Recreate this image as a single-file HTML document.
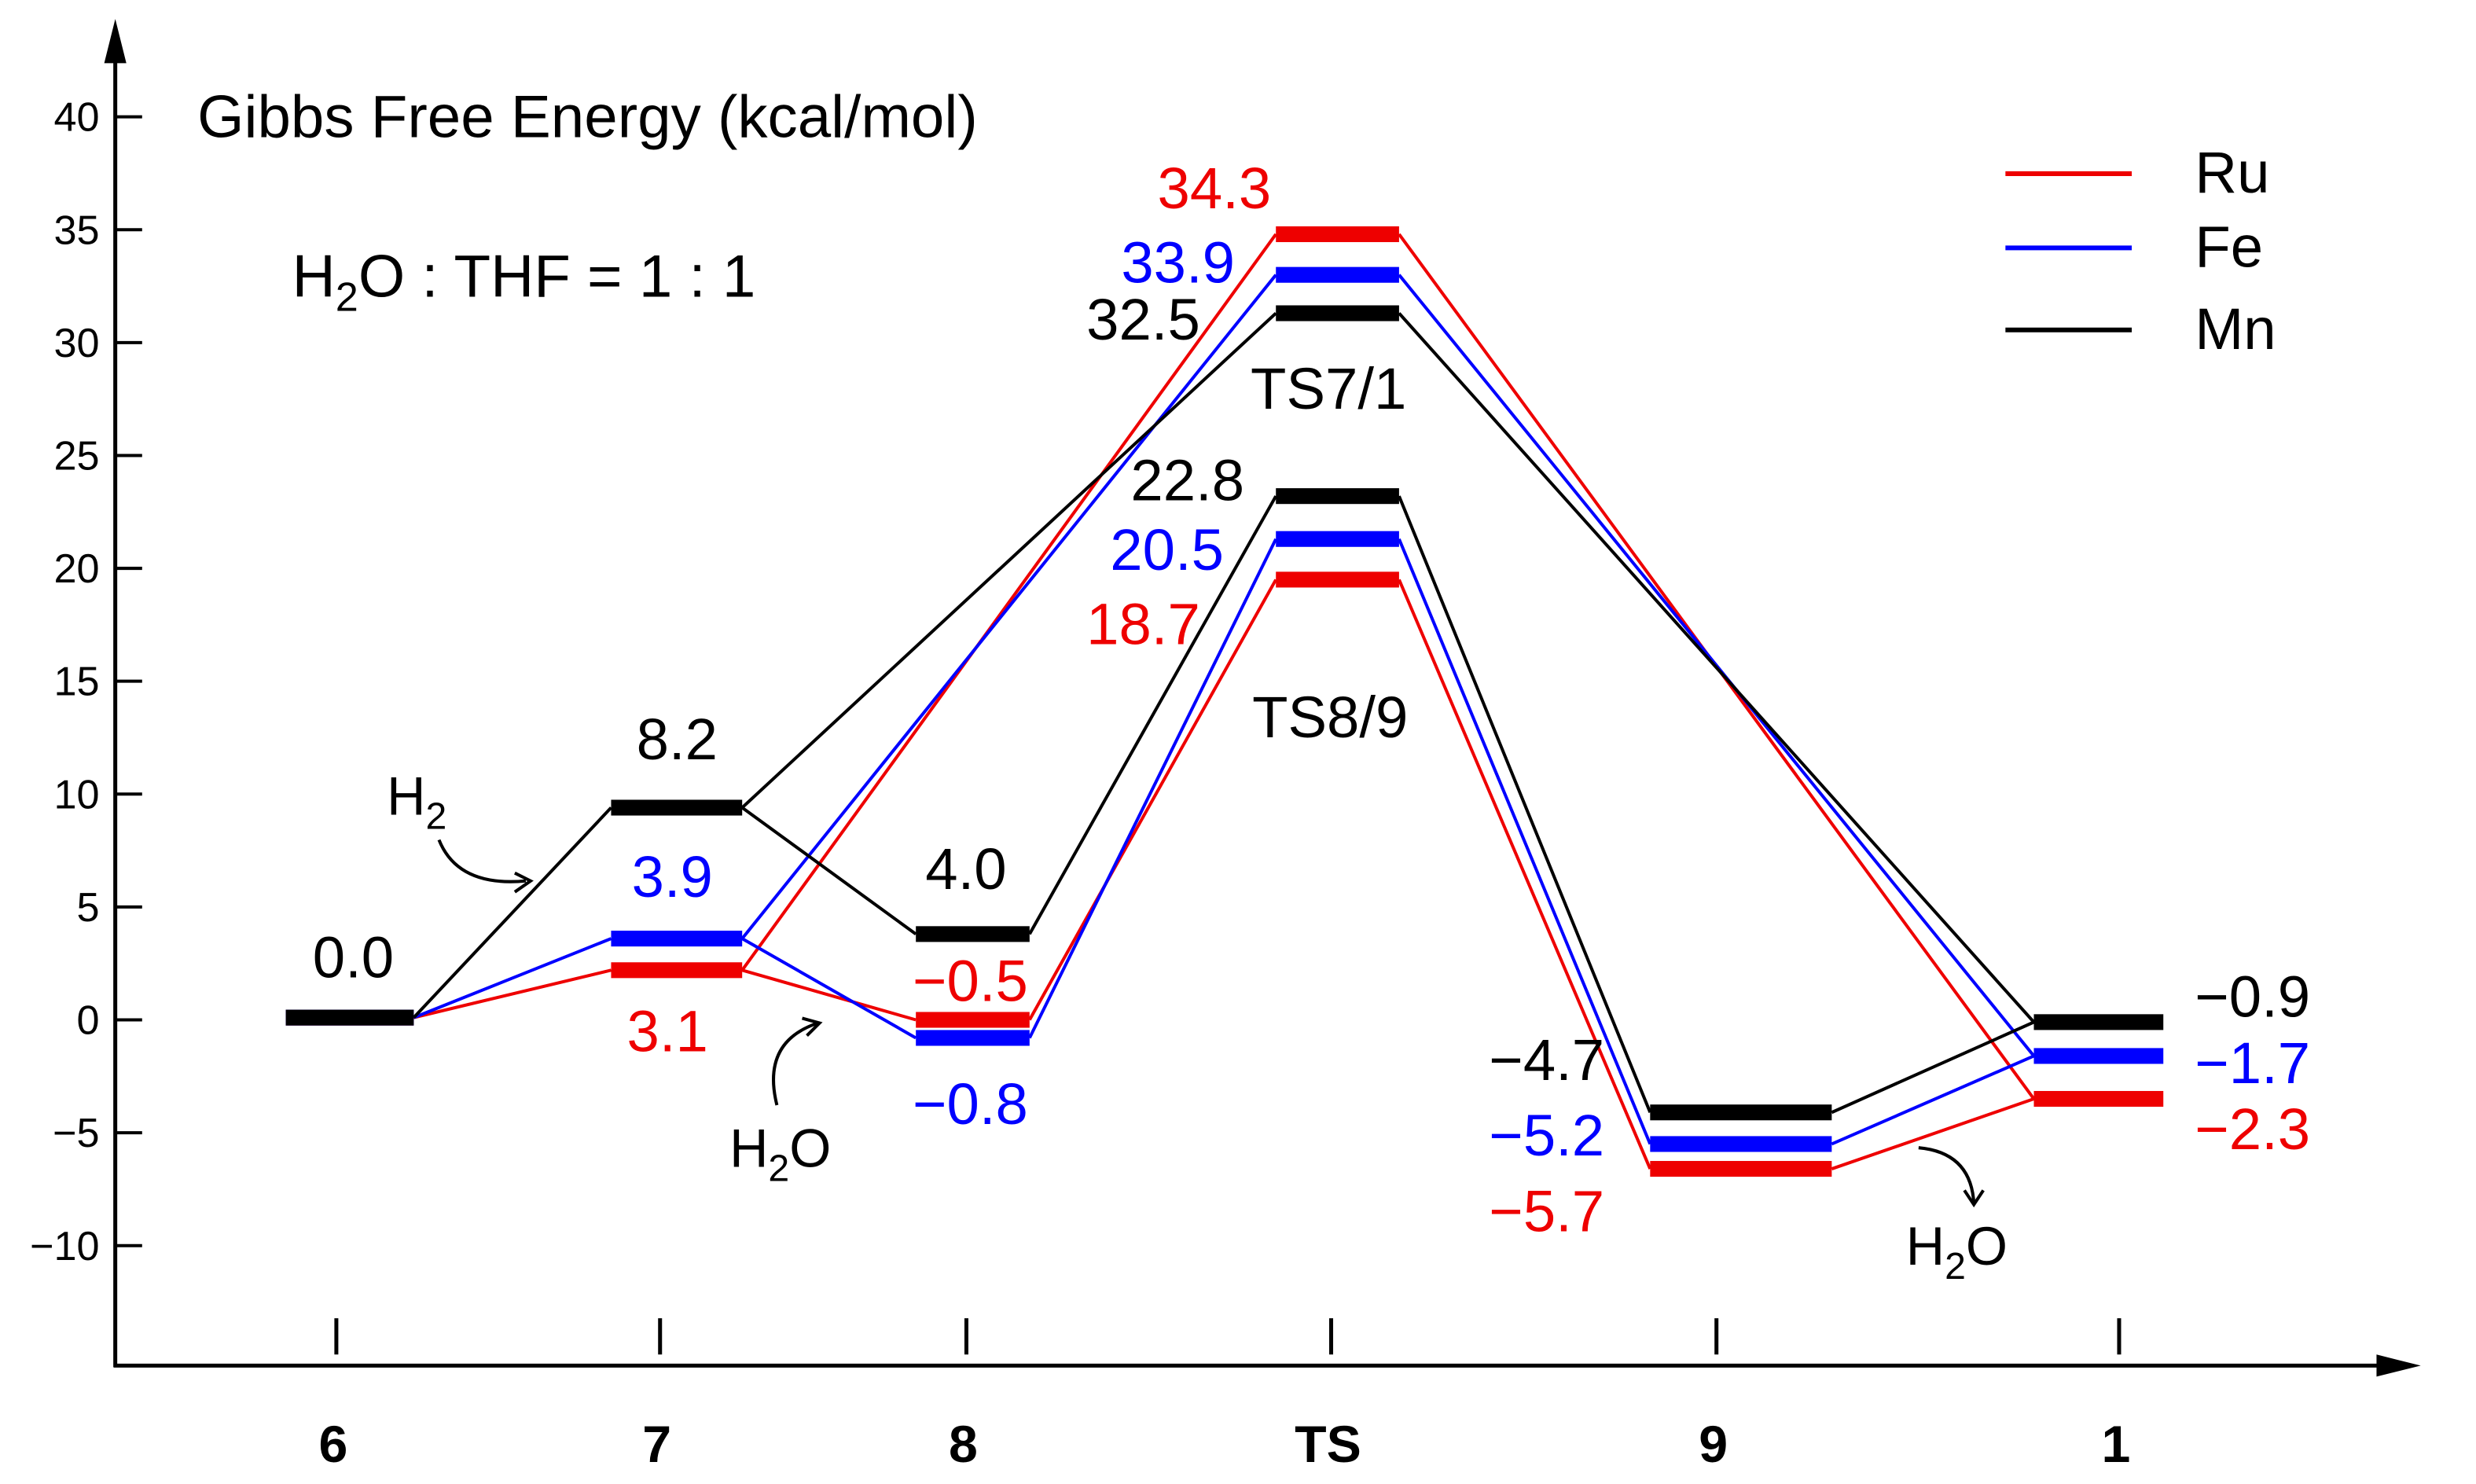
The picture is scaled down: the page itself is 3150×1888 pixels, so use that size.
<!DOCTYPE html>
<html><head><meta charset="utf-8"><style>
html,body{margin:0;padding:0;background:#fff;}
svg{display:block;font-family:"Liberation Sans",sans-serif;}
</style></head><body>
<svg id="chart" width="3150" height="1888" viewBox="0 0 1568 940" preserveAspectRatio="none" xmlns="http://www.w3.org/2000/svg">
<rect x="0" y="0" width="1568" height="940" fill="#fff"/>
<g id="axes"></g>
<g id="lines"></g>
<g id="bars"></g>
<g id="labels"></g>
<text x="125" y="87" font-size="38">Gibbs Free Energy (kcal/mol)</text>
<text x="185" y="188" font-size="38">H<tspan font-size="26" dy="9">2</tspan><tspan dy="-9">O : THF = 1 : 1</tspan></text>
<g>
<line x1="1270" y1="110" x2="1350" y2="110" stroke="#e00" stroke-width="3"/>
<text x="1390" y="122" font-size="37">Ru</text>
<line x1="1270" y1="157" x2="1350" y2="157" stroke="#00f" stroke-width="3"/>
<text x="1390" y="169" font-size="37">Fe</text>
<line x1="1270" y1="209" x2="1350" y2="209" stroke="#000" stroke-width="3"/>
<text x="1390" y="221" font-size="37">Mn</text>
</g>
<text x="792" y="259" font-size="37">TS7/1</text>
<text x="793" y="467" font-size="37">TS8/9</text>
<text x="245" y="516" font-size="34">H<tspan font-size="24" dy="9">2</tspan></text>
<text x="462" y="739" font-size="34">H<tspan font-size="24" dy="9">2</tspan><tspan dy="-9">O</tspan></text>
<text x="1207" y="801" font-size="34">H<tspan font-size="24" dy="9">2</tspan><tspan dy="-9">O</tspan></text>
<g fill="none" stroke="#000" stroke-width="2">
<path d="M278,532 Q290,562 333,558"/>
<path d="M326,553 L336,558 L326,565"/>
<path d="M492,700 Q482,660 518,648"/>
<path d="M508,645 L519,648 L511,656"/>
<path d="M1215,727 Q1248,730 1250,762"/>
<path d="M1244,754 L1250,763 L1256,754"/>
</g>
<script>
const yTicks=[40,35,30,25,20,15,10,5,0,-5,-10];
const categories=["6","7","8","TS","9","1"];
const catX=[213,418,612,843,1087,1342];
// plotted level heights (kcal/mol, as drawn) per state: [6,7,8,TSlow,9,1,TSup]
const mnLevels=[0.1,9.4,3.8,23.2,-4.1,-0.1,31.3];
const feLevels=[0.1,3.6,-0.8,21.3,-5.5,-1.6,33.0];
const ruLevels=[0.1,2.2,0.0,19.5,-6.6,-3.5,34.8];
const mnValues=["0.0","8.2","4.0","22.8","−4.7","−0.9","32.5"];
const feValues=["","3.9","−0.8","20.5","−5.2","−1.7","33.9"];
const ruValues=["","3.1","−0.5","18.7","−5.7","−2.3","34.3"];
const NS="http://www.w3.org/2000/svg";
function yS(v){return 646-v*14.3;}
const barX=[[181,262],[387,470],[580,652],[808,886],[1045,1160],[1288,1370],[808,886]];
const edges=[[0,1],[1,2],[2,3],[3,4],[4,5],[1,6],[6,5]];
function mk(tag,attrs,parent){const e=document.createElementNS(NS,tag);for(const k in attrs)e.setAttribute(k,attrs[k]);parent.appendChild(e);return e;}
const axes=document.getElementById('axes');
let e=mk('line',{x1:73,y1:25,x2:73,y2:866,stroke:'#000','stroke-width':2.5},axes);


e=mk('path',{d:'M66,40 L73,12 L80,40 Z',fill:'#000'},axes);


e=mk('line',{x1:72,y1:865,x2:1520,y2:865,stroke:'#000','stroke-width':2.5},axes);


e=mk('path',{d:'M1505,858 L1533,865 L1505,872 Z',fill:'#000'},axes);


yTicks.forEach(t=>{
 const l=mk('line',{x1:73,y1:yS(t),x2:90,y2:yS(t),stroke:'#000','stroke-width':2},axes);
 
 
 const tx=mk('text',{x:63,y:yS(t)+9,'font-size':26,'text-anchor':'end'},axes);
 tx.textContent=t<0?'−'+(-t):String(t);
 
 
});
categories.forEach((c,i)=>{
 const l=mk('line',{x1:catX[i],y1:835,x2:catX[i],y2:858,stroke:'#000','stroke-width':2.5},axes);
 
 
 const tx=mk('text',{x:catX[i]-2,y:926,'font-size':33,'font-weight':'bold','text-anchor':'middle'},axes);
 tx.textContent=c;
 
 
});
const lines=document.getElementById('lines'),bars=document.getElementById('bars');
const series=[["ru","#e00",ruLevels],["fe","#00f",feLevels],["mn","#000",mnLevels]];
series.forEach(([n,col,lv])=>{
 edges.forEach(([a,b])=>{
  const l=mk('line',{x1:barX[a][1],y1:yS(lv[a]),x2:barX[b][0],y2:yS(lv[b]),stroke:col,'stroke-width':2},lines);
  
  
 });
});
series.forEach(([n,col,lv])=>{
 lv.forEach((v,i)=>{
  const r=mk('rect',{x:barX[i][0],y:yS(v)-5,width:barX[i][1]-barX[i][0],height:10,fill:col},bars);
  
  
 });
});
const labels=document.getElementById('labels');
const labPos={mn:[[198,619],[403,481],[586,563],[716,317],[943,684],[1390,644],[688,215]],
 fe:[[0,0],[400,568],[578,712],[703,361],[943,732],[1390,686],[710,179]],
 ru:[[0,0],[397,666],[578,634],[688,408],[943,780],[1390,728],[733,132]]};
[["ru","#e00",ruValues],["fe","#00f",feValues],["mn","#000",mnValues]].forEach(([n,col,vals])=>{
 vals.forEach((s,i)=>{
  if(!s)return;
  const t=mk('text',{x:labPos[n][i][0],y:labPos[n][i][1],'font-size':37,fill:col},labels);
  t.textContent=s;
  
  
 });
});
</script>
</svg>
</body></html>
